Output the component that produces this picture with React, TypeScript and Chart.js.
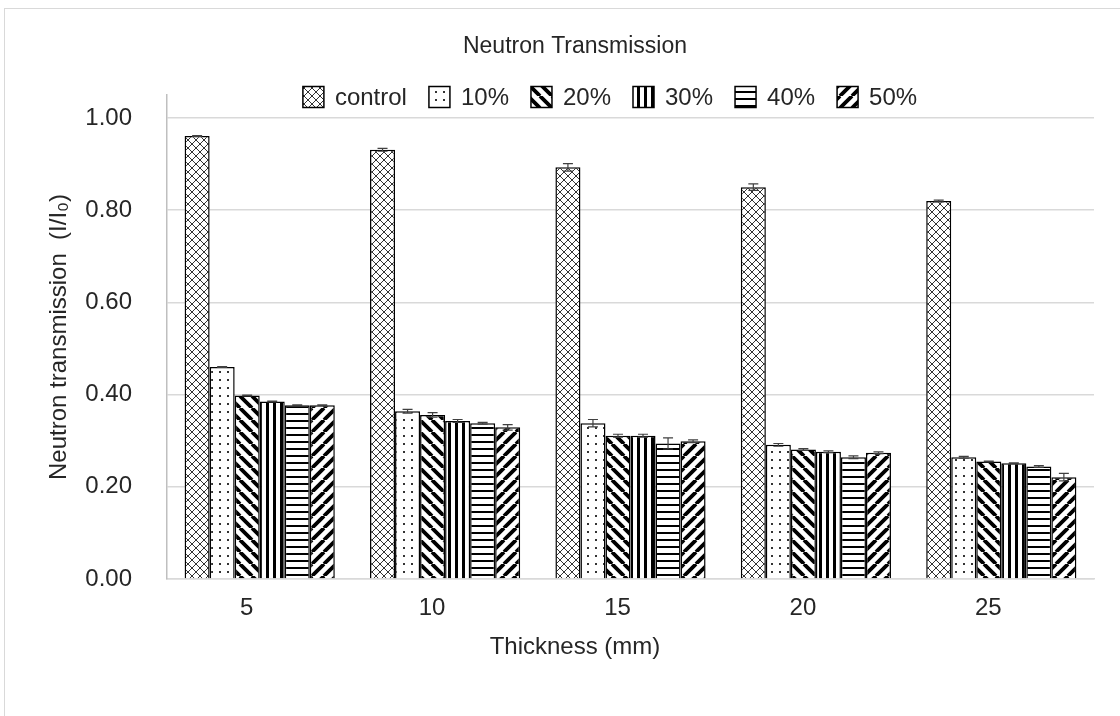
import React, { useEffect, useRef } from "react";
import { Chart, registerables } from "chart.js";

Chart.register(...registerables);

const FONT = '"Liberation Sans", Arial, sans-serif';
const TEXT = "#262626";

const categories = ["5", "10", "15", "20", "25"];
const seriesLabels = ["control", "10%", "20%", "30%", "40%", "50%"];

const controlValues = [0.961, 0.931, 0.893, 0.85, 0.82];
const p10Values = [0.46, 0.364, 0.338, 0.291, 0.264];
const p20Values = [0.398, 0.356, 0.311, 0.281, 0.255];
const p30Values = [0.385, 0.343, 0.311, 0.276, 0.251];
const p40Values = [0.377, 0.338, 0.294, 0.264, 0.244];
const p50Values = [0.377, 0.329, 0.299, 0.274, 0.221];

const controlErr = [0.001, 0.003, 0.008, 0.007, 0.002];
const p10Err = [0.001, 0.004, 0.008, 0.003, 0.002];
const p20Err = [0.001, 0.005, 0.003, 0.002, 0.001];
const p30Err = [0.001, 0.003, 0.003, 0.002, 0.001];
const p40Err = [0.001, 0.002, 0.012, 0.003, 0.002];
const p50Err = [0.001, 0.006, 0.003, 0.002, 0.008];

const yTicks = [0, 0.2, 0.4, 0.6, 0.8, 1.0];

type PatternKind = "cross" | "dots" | "back" | "fwd" | "vert" | "horiz";
const patternKinds: PatternKind[] = ["cross", "dots", "back", "vert", "horiz", "fwd"];

function makePattern(ctx: CanvasRenderingContext2D, kind: PatternKind): CanvasPattern | string {
  const tile = document.createElement("canvas");
  let w = 8, h = 8;
  if (kind === "back" || kind === "fwd") { w = 12; h = 12; }
  if (kind === "vert") { w = 7; h = 4; }
  if (kind === "horiz") { w = 4; h = 7; }
  tile.width = w;
  tile.height = h;
  const t = tile.getContext("2d")!;
  t.fillStyle = "#ffffff";
  t.fillRect(0, 0, w, h);
  t.fillStyle = "#000000";
  t.strokeStyle = "#000000";
  if (kind === "cross") {
    t.strokeStyle = "#333333";
    t.lineWidth = 1;
    t.beginPath();
    t.moveTo(0, 0); t.lineTo(w, h);
    t.moveTo(w, 0); t.lineTo(0, h);
    t.stroke();
  } else if (kind === "dots") {
    t.fillStyle = "#333333";
    t.fillRect(3, 3, 2, 2);
  } else if (kind === "back") {
    t.lineWidth = 3.8;
    t.beginPath();
    for (const k of [-w, 0, w]) { t.moveTo(k, 0); t.lineTo(k + w, h); }
    t.stroke();
  } else if (kind === "fwd") {
    t.lineWidth = 3.8;
    t.beginPath();
    for (const k of [-w, 0, w]) { t.moveTo(k, h); t.lineTo(k + w, 0); }
    t.stroke();
  } else if (kind === "vert") {
    t.fillRect(0, 0, 3, h);
  } else if (kind === "horiz") {
    t.fillRect(0, 0, w, 2);
  }
  return ctx.createPattern(tile, "repeat") || "#888";
}

const errorBarPlugin = {
  id: "errorBars",
  afterDatasetsDraw(chart: any) {
    const ctx = chart.ctx;
    const yScale = chart.scales.y;
    ctx.save();
    ctx.strokeStyle = "#404040";
    ctx.lineWidth = 1.2;
    chart.data.datasets.forEach((ds: any, di: number) => {
      const meta = chart.getDatasetMeta(di);
      meta.data.forEach((bar: any, i: number) => {
        const v = ds.data[i];
        const e = ds.errors[i];
        const yTop = yScale.getPixelForValue(v + e);
        const yBot = yScale.getPixelForValue(v - e);
        const x = bar.x;
        ctx.beginPath();
        ctx.moveTo(x, yTop); ctx.lineTo(x, yBot);
        ctx.moveTo(x - 5, yTop); ctx.lineTo(x + 5, yTop);
        ctx.moveTo(x - 5, yBot); ctx.lineTo(x + 5, yBot);
        ctx.stroke();
      });
    });
    ctx.restore();
  },
};

const legendPlugin = {
  id: "patternLegend",
  afterDraw(chart: any) {
    const ctx = chart.ctx;
    ctx.save();
    ctx.font = `24px ${FONT}`;
    const box = 21, gap = 11, itemGap = 22;
    const items = chart.data.datasets.map((ds: any) => ({
      label: ds.label,
      fill: ds.backgroundColor,
      w: box + gap + ctx.measureText(ds.label).width,
    }));
    const total = items.reduce((s: number, it: any) => s + it.w, 0) + itemGap * (items.length - 1);
    let x = 610 - total / 2;
    const cy = 97;
    for (const it of items) {
      ctx.fillStyle = "#ffffff";
      ctx.fillRect(x, cy - box / 2, box, box);
      ctx.fillStyle = it.fill;
      ctx.fillRect(x, cy - box / 2, box, box);
      ctx.strokeStyle = "#000000";
      ctx.lineWidth = 1.5;
      ctx.strokeRect(x, cy - box / 2, box, box);
      ctx.fillStyle = TEXT;
      ctx.textBaseline = "middle";
      ctx.textAlign = "left";
      ctx.fillText(it.label, x + box + gap, cy + 1);
      x += it.w + itemGap;
    }
    ctx.restore();
  },
};

export default function App() {
  const canvasRef = useRef<HTMLCanvasElement | null>(null);

  useEffect(() => {
    const canvas = canvasRef.current!;
    const ctx = canvas.getContext("2d")!;
    const valueSets = [controlValues, p10Values, p20Values, p30Values, p40Values, p50Values];
    const errSets = [controlErr, p10Err, p20Err, p30Err, p40Err, p50Err];
    const datasets = seriesLabels.map((label, i) => ({
      label,
      data: valueSets[i],
      errors: errSets[i],
      backgroundColor: makePattern(ctx, patternKinds[i]),
      borderColor: "#000000",
      borderWidth: 1.5,
      categoryPercentage: 0.81,
      barPercentage: 1.0,
    }));

    const chart = new Chart(canvas, {
      type: "bar",
      data: { labels: categories, datasets: datasets as any },
      options: {
        responsive: false,
        animation: false,
        devicePixelRatio: 1,
        layout: { padding: { left: 56, right: 56, top: 0, bottom: 0 } },
        plugins: {
          legend: { display: false },
          tooltip: { enabled: false },
          title: {
            display: true,
            text: "Neutron Transmission",
            color: TEXT,
            font: { family: FONT, size: 23, weight: "normal" },
            padding: { top: 33.2, bottom: 34.2 },
          },
          subtitle: {
            display: true,
            position: "bottom",
            text: "Thickness (mm)",
            color: TEXT,
            font: { family: FONT, size: 24, weight: "normal" },
            padding: { top: 10, bottom: 54.6 },
          },
        },
        scales: {
          x: {
            grid: { display: false, drawTicks: false },
            border: { display: true, color: "#d9d9d9", width: 1.5 },
            ticks: {
              color: TEXT,
              font: { family: FONT, size: 24 },
              padding: 14.6,
              labelOffset: -13,
            },
            afterFit: (scale: any) => { scale.height = 43.6; },
          },
          y: {
            min: 0,
            max: 1.05,
            afterBuildTicks: (scale: any) => {
              scale.ticks = yTicks.map((v) => ({ value: v }));
            },
            grid: { color: "#d9d9d9", lineWidth: 1.5, drawTicks: false },
            border: { display: true, color: "#bfbfbf", width: 1.5 },
            ticks: {
              color: TEXT,
              font: { family: FONT, size: 24 },
              padding: 35,
              callback: (v: any) => Number(v).toFixed(2),
            },
            title: {
              display: true,
              text: "Neutron transmission  (I/I\u2080)",
              color: TEXT,
              font: { family: FONT, size: 24 },
              padding: { top: -11.4, bottom: 0 },
            },
            afterFit: (scale: any) => { scale.width = 111; },
          },
        },
      },
      plugins: [errorBarPlugin, legendPlugin],
    } as any);
    return () => chart.destroy();
  }, []);

  return (
    <div style={{ position: "fixed", left: 0, top: 0, width: 1120, height: 716, overflow: "hidden", background: "#ffffff" }}>
      <div style={{ position: "absolute", left: 4, top: 8, width: 1200, height: 800, border: "1.5px solid #d9d9d9", boxSizing: "border-box" }} />
      <canvas ref={canvasRef} width={1150} height={716} style={{ position: "absolute", left: 0, top: 0, width: 1150, height: 716 }} />
    </div>
  );
}
